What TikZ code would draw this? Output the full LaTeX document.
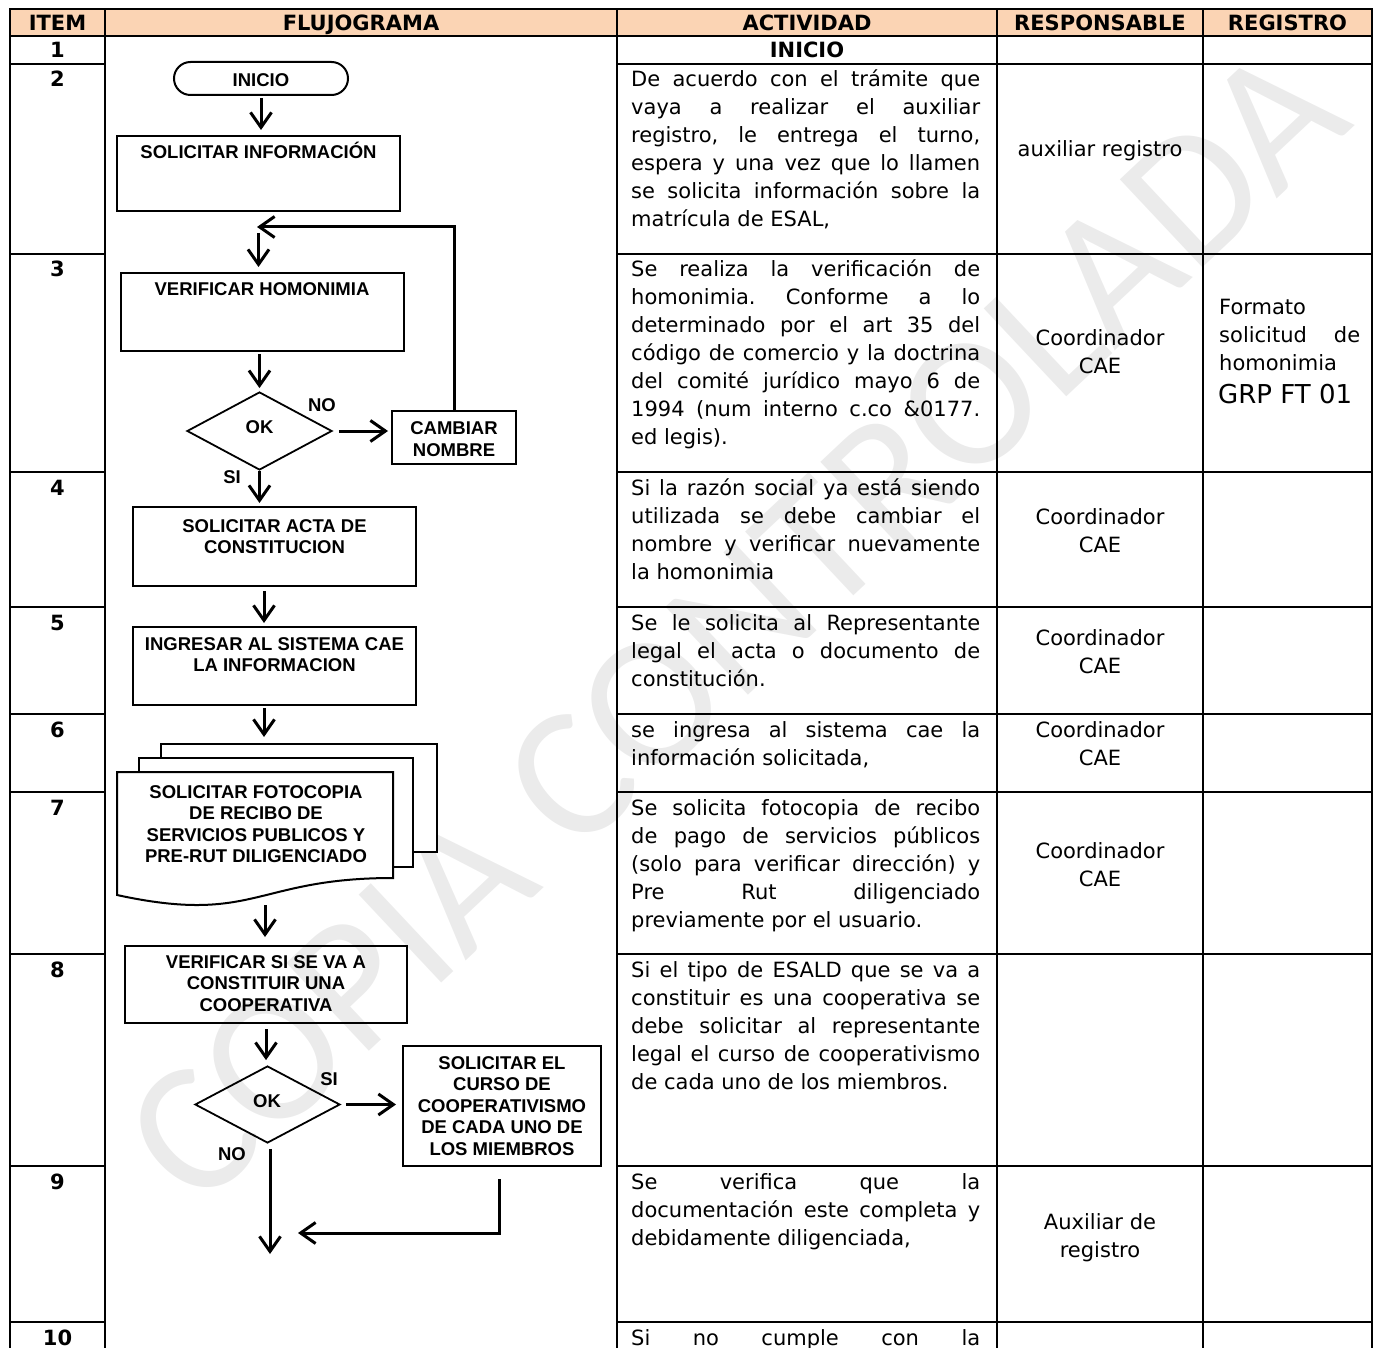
\documentclass[tikz,border=0pt]{standalone}
\usepackage{fontspec}
\setmainfont{DejaVu Sans}
\newfontfamily\flowfont{Liberation Sans}
\newfontfamily\wmfont{Carlito}
\usetikzlibrary{arrows.meta,shapes.geometric}
\definecolor{hdrfill}{HTML}{FBD4B4}
\definecolor{wmgray}{HTML}{EBEBEB}
\frenchspacing
\newcommand{\jline}[1]{\makebox[349pt][s]{#1}}
\newcommand{\flines}[1]{\begin{tabular}[t]{@{}c@{}}#1\end{tabular}}
\newcommand{\blines}[1]{\begin{tabular}[t]{@{}l@{}}#1\end{tabular}}
\tikzset{
  tbl/.style={line width=2.5pt, line cap=rect},
  fbox/.style={draw, line width=2pt, rectangle, inner sep=0pt},
  sheet/.style={draw, line width=2pt, rectangle, inner sep=0pt, fill=white},
  dec/.style={draw, line width=1.8pt, diamond, inner sep=0pt},
  arr/.style={line width=3pt, -{Straight Barb[length=15pt,width=21pt]}},
  ftxt/.style={font=\flowfont\bfseries\fontsize{18.5}{21.5}\selectfont, inner sep=0pt, anchor=base},
  btxt/.style={font=\fontsize{21}{28}\selectfont, inner sep=0pt, anchor=base west},
  ctxt/.style={font=\fontsize{21}{28}\selectfont, inner sep=0pt, anchor=base},
  htxt/.style={font=\bfseries\fontsize{21}{28}\selectfont, inner sep=0pt, anchor=base},
}
\begin{document}
\begin{tikzpicture}[x=1pt,y=-1pt]
\useasboundingbox (0,0) rectangle (1377,1348);
\clip (0,0) rectangle (1377,1348);
% watermark
\node[rotate=43.2, text=wmgray, font=\wmfont\fontsize{188}{188}\selectfont, inner sep=0pt] (wm) at (735,625) {COPIA CONTROLADA};
% header
\fill[hdrfill] (10,9) rectangle (1372,36);
\node[htxt] (hItem) at (57.5,30.5) {ITEM};
\node[htxt] (hFlujo) at (361,30.5) {FLUJOGRAMA};
\node[htxt] (hAct) at (807,30.5) {ACTIVIDAD};
\node[htxt] (hResp) at (1100,30.5) {RESPONSABLE};
\node[htxt] (hReg) at (1287.5,30.5) {REGISTRO};
% table lines
\draw[tbl] (10,9) -- (1372,9);
\draw[tbl] (10,36) -- (1372,36);
\foreach \x in {10,105,617,997,1203,1372} \draw[tbl] (\x,9) -- (\x,1360);
\foreach \y in {64,254,472,607,714,792,954,1166,1322} {
  \draw[tbl] (10,\y) -- (105,\y);
  \draw[tbl] (617,\y) -- (1372,\y);
}
% item numbers
\node[htxt] (n1) at (57.5,58) {1};
\node[htxt] (n2) at (57.5,87) {2};
\node[htxt] (n3) at (57.5,277) {3};
\node[htxt] (n4) at (57.5,495) {4};
\node[htxt] (n5) at (57.5,630) {5};
\node[htxt] (n6) at (57.5,737) {6};
\node[htxt] (n7) at (57.5,815) {7};
\node[htxt] (n8) at (57.5,977) {8};
\node[htxt] (n9) at (57.5,1189) {9};
\node[htxt] (n10) at (57.5,1345) {10};
% activities
\node[htxt] (a1) at (807,58) {INICIO};
\node[btxt] (a2) at (631,87) {\blines{\jline{De acuerdo con el trámite que}\\\jline{vaya a realizar el auxiliar}\\\jline{registro, le entrega el turno,}\\\jline{espera y una vez que lo llamen}\\\jline{se solicita información sobre la}\\matrícula de ESAL,}};
\node[btxt] (a3) at (631,277) {\blines{\jline{Se realiza la verificación de}\\\jline{homonimia. Conforme a lo}\\\jline{determinado por el art 35 del}\\\jline{código de comercio y la doctrina}\\\jline{del comité jurídico mayo 6 de}\\\jline{1994 (num interno c.co \&0177.}\\ed legis).}};
\node[btxt] (a4) at (631,495) {\blines{\jline{Si la razón social ya está siendo}\\\jline{utilizada se debe cambiar el}\\\jline{nombre y verificar nuevamente}\\la homonimia}};
\node[btxt] (a5) at (631,630) {\blines{\jline{Se le solicita al Representante}\\\jline{legal el acta o documento de}\\constitución.}};
\node[btxt] (a6) at (631,737) {\blines{\jline{se ingresa al sistema cae la}\\información solicitada,}};
\node[btxt] (a7) at (631,815) {\blines{\jline{Se solicita fotocopia de recibo}\\\jline{de pago de servicios públicos}\\\jline{(solo para verificar dirección) y}\\\jline{Pre Rut diligenciado}\\previamente por el usuario.}};
\node[btxt] (a8) at (631,977) {\blines{\jline{Si el tipo de ESALD que se va a}\\\jline{constituir es una cooperativa se}\\\jline{debe solicitar al representante}\\\jline{legal el curso de cooperativismo}\\de cada uno de los miembros.}};
\node[btxt] (a9) at (631,1189) {\blines{\jline{Se verifica que la}\\\jline{documentación este completa y}\\debidamente diligenciada,}};
\node[btxt] (a10) at (631,1345) {\jline{Si no cumple con la}};
% responsables
\node[ctxt] (r2) at (1100,157) {auxiliar registro};
\node[ctxt] (r3) at (1100,346) {\flines{Coordinador\\CAE}};
\node[ctxt] (r4) at (1100,524) {\flines{Coordinador\\CAE}};
\node[ctxt] (r5) at (1100,645) {\flines{Coordinador\\CAE}};
\node[ctxt] (r6) at (1100,737) {\flines{Coordinador\\CAE}};
\node[ctxt] (r7) at (1100,858) {\flines{Coordinador\\CAE}};
\node[ctxt] (r9) at (1100,1229) {\flines{Auxiliar de\\registro}};
% registro
\node[btxt] (g3) at (1219,315) {\blines{Formato\\\makebox[141pt][s]{solicitud de}\\homonimia}};
\node[font=\fontsize{26}{30}\selectfont, inner sep=0pt, anchor=base west] (g3b) at (1218,403.5) {GRP FT 01};
% ---------------- flowchart
\node[fbox, rounded corners=16.5pt, minimum width=174pt, minimum height=33pt] (ini) at (261,78.5) {};
\node[ftxt] (tIni) at (261,87) {INICIO};
\node[fbox, minimum width=283pt, minimum height=75pt] (b1) at (258.5,173.5) {};
\node[ftxt] (t1) at (258.5,158.5) {SOLICITAR INFORMACIÓN};
\node[fbox, minimum width=283pt, minimum height=78pt] (b2) at (262.5,312) {};
\node[ftxt] (t2) at (262,296) {VERIFICAR HOMONIMIA};
\node[dec, minimum width=145pt, minimum height=78pt] (d1) at (259.5,431) {};
\node[ftxt] (tOK1) at (259.5,433) {OK};
\node[ftxt] (tNO1) at (322,412) {NO};
\node[fbox, minimum width=124pt, minimum height=53pt] (cam) at (454,437.5) {};
\node[ftxt] (tCam) at (454,435) {\flines{CAMBIAR\\NOMBRE}};
\node[ftxt] (tSI1) at (232,483) {SI};
\node[fbox, minimum width=283pt, minimum height=79pt] (b4) at (274.5,546.5) {};
\node[ftxt] (t4) at (274.5,532) {\flines{SOLICITAR ACTA DE\\CONSTITUCION}};
\node[fbox, minimum width=283pt, minimum height=78pt] (b5) at (274.5,666) {};
\node[ftxt] (t5) at (274.5,650) {\flines{INGRESAR AL SISTEMA CAE\\LA INFORMACION}};
% multidocument
\node[sheet, minimum width=276pt, minimum height=108pt] (s3) at (299,798) {};
\node[sheet, minimum width=274pt, minimum height=109pt] (s2) at (276,812.5) {};
\filldraw[line width=2pt, fill=white] (117,772) -- (393,772) -- (393,878) .. controls (255,878) and (255,925) .. (117,895) -- cycle;
\node[ftxt] (t6) at (256,798) {\flines{SOLICITAR FOTOCOPIA\\DE RECIBO DE\\SERVICIOS PUBLICOS Y\\PRE-RUT DILIGENCIADO}};
\coordinate (docb) at (265,905);
\node[fbox, minimum width=282pt, minimum height=77pt] (b6) at (266,984.5) {};
\node[ftxt] (t7) at (266,968) {\flines{VERIFICAR SI SE VA A\\CONSTITUIR UNA\\COOPERATIVA}};
\node[dec, minimum width=145pt, minimum height=77pt] (d2) at (267.5,1104.5) {};
\node[ftxt] (tOK2) at (267,1107) {OK};
\node[ftxt] (tSI2) at (329,1085) {SI};
\node[fbox, minimum width=198pt, minimum height=120pt] (b7) at (502,1106) {};
\node[ftxt] (t8) at (502,1069) {\flines{SOLICITAR EL\\CURSO DE\\COOPERATIVISMO\\DE CADA UNO DE\\LOS MIEMBROS}};
\node[ftxt] (tNO2) at (232,1160) {NO};
% connectors
\coordinate (m1) at (258.5,233);
\coordinate (lp) at (257,227);
\coordinate (e1) at (270,1254);
\coordinate (e2) at (298,1233);
\draw[arr, shorten <=2pt, shorten >=5pt] (ini.south) -- (ini.south |- b1.north);
\draw[arr, shorten >=5pt] (m1) -- (m1 |- b2.north);
\draw[arr] (cam.north) |- (lp);
\draw[arr, shorten <=2pt, shorten >=3pt] (b2.south -| d1.north) -- (d1.north);
\draw[arr, shorten <=6pt, shorten >=3pt] (d1.east) -- (d1.east -| cam.west);
\draw[arr, shorten >=3pt] (d1.south) -- (d1.south |- b4.north);
\draw[arr, shorten <=4pt, shorten >=3pt] ([xshift=-10.5pt]b4.south) -- ([xshift=-10.5pt]b4.south |- b5.north);
\draw[arr, shorten <=2pt, shorten >=6pt] ([xshift=-10.5pt]b5.south) -- ([xshift=-10.5pt]b5.south |- s3.north);
\draw[arr, shorten >=8pt] (docb) -- (docb |- b6.north);
\draw[arr, shorten <=5pt, shorten >=5pt] (b6.south) -- (b6.south |- d2.north);
\draw[arr, shorten <=5pt, shorten >=6pt] (d2.east) -- (d2.east -| b7.west);
\draw[arr, shorten <=5pt] ([xshift=2.5pt]d2.south) -- (e1);
\draw[arr, shorten <=12pt] ([xshift=-3pt]b7.south) |- (e2);
\end{tikzpicture}
\end{document}
